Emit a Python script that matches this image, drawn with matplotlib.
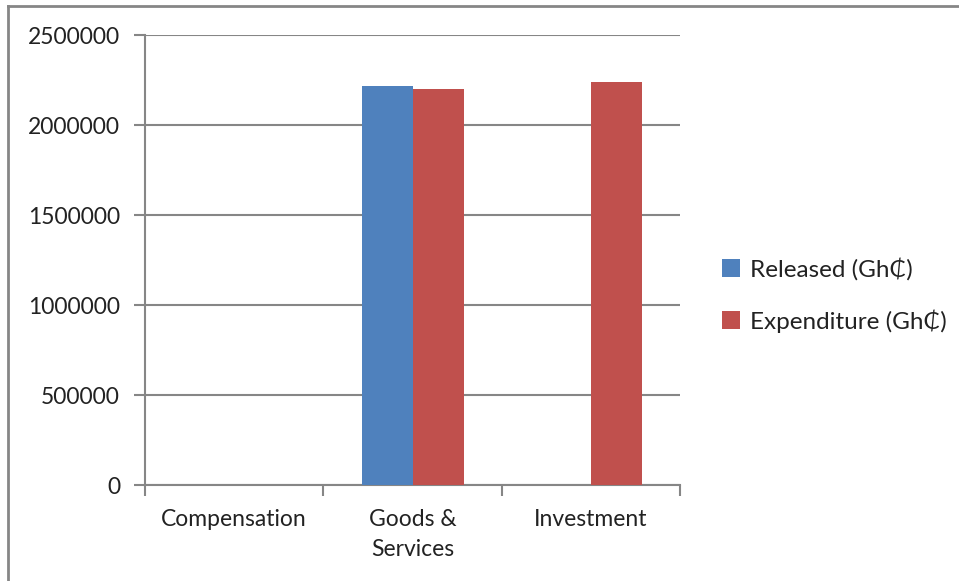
import matplotlib
matplotlib.use('Agg')
import matplotlib.pyplot as plt
from matplotlib.lines import Line2D
import numpy as np

plt.rcParams['font.family'] = ['Lato', 'DejaVu Sans']

categories = ['Compensation', 'Goods &\nServices', 'Investment']
released = [0, 2218000, 0]
expenditure = [0, 2204000, 2239000]
series_names = ['Released (Gh\u20b5)', 'Expenditure (Gh\u20b5)']
yticks = [0, 500000, 1000000, 1500000, 2000000, 2500000]

blue = '#4f81bd'
red = '#c0504d'
grey = '#868686'

fig = plt.figure(figsize=(9.59, 5.81), dpi=100)
ax = fig.add_axes([0.1512, 0.1652, 0.558, 0.7737])

x = np.arange(len(categories))
w = 1 / 3.5
ax.bar(x - w / 2, released, w, color=blue, label=series_names[0], zorder=3)
ax.bar(x + w / 2, expenditure, w, color=red, label=series_names[1], zorder=3)

ax.set_xlim(-0.5, 2.5)
ax.set_ylim(0, 2500000)
ax.set_yticks(yticks)
ax.set_yticklabels([str(v) for v in yticks])
ax.yaxis.grid(True, color=grey, linewidth=1.5, zorder=0)

# category boundaries as major ticks, labels on minor ticks
ax.set_xticks([-0.5, 0.5, 1.5, 2.5])
ax.set_xticklabels([])
ax.set_xticks(x, minor=True)
ax.set_xticklabels(categories, minor=True, linespacing=1.55)
ax.tick_params(axis='x', which='major', length=8, width=1.5, color=grey, direction='out')
ax.tick_params(axis='x', which='minor', length=0, pad=17, labelsize=16.5, labelcolor='#222222')
ax.tick_params(axis='y', length=8, width=1.5, color=grey, direction='out', pad=10,
               labelsize=16.5, labelcolor='#222222')

for s in ['top', 'right']:
    ax.spines[s].set_visible(False)
for s in ['left', 'bottom']:
    ax.spines[s].set_color(grey)
    ax.spines[s].set_linewidth(1.5)

ax.legend(loc='center left', bbox_to_anchor=(722 / 959, 1 - 295 / 581),
          bbox_transform=fig.transFigure, frameon=False, borderpad=0, borderaxespad=0,
          fontsize=17.5, handlelength=0.75, handleheight=0.75, handletextpad=0.4,
          labelspacing=1.2, labelcolor='#222222')

# outer chart border (only top and left visible)
fig.add_artist(Line2D([8 / 959, 8 / 959], [0, 1 - 6 / 581], transform=fig.transFigure,
                      color=grey, linewidth=2))
fig.add_artist(Line2D([8 / 959, 1], [1 - 6 / 581, 1 - 6 / 581], transform=fig.transFigure,
                      color=grey, linewidth=2))

fig.savefig('out.png', dpi=100)
